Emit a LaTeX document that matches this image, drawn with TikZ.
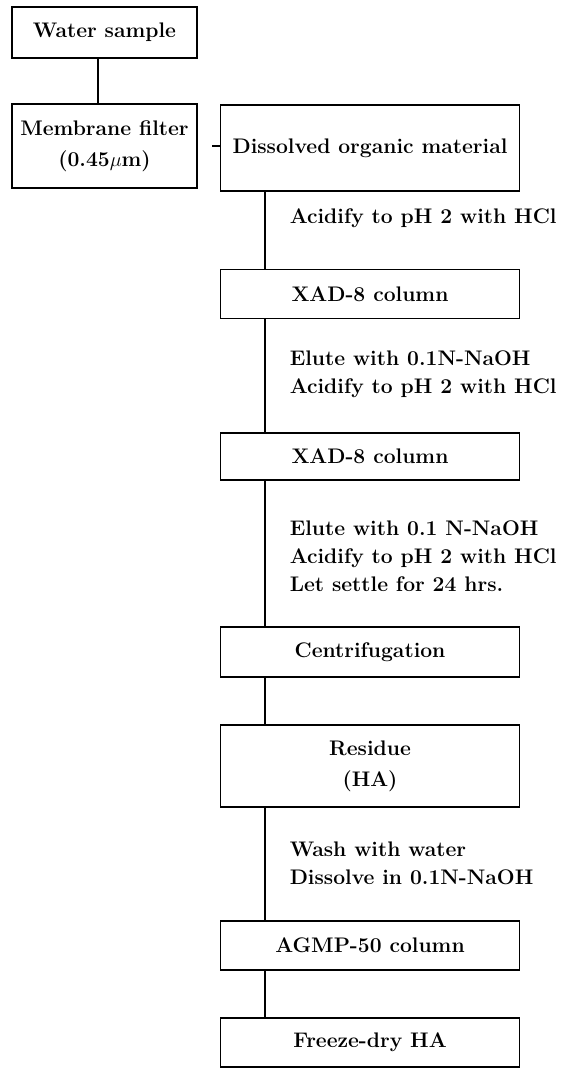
\documentclass[tikz,border=0pt]{standalone}
\usepackage{tikz}
\usetikzlibrary{positioning, calc}

\begin{document}
\begin{tikzpicture}[
    x=0.025cm, y=-0.025cm,
    line width=1.1pt,
    stepbox/.style={draw, line width=1.1pt, minimum width=7.475cm, minimum height=1.225cm, inner sep=0pt, align=center, font=\fontsize{15}{22}\selectfont\bfseries},
    smallbox/.style={stepbox, minimum width=4.625cm},
    note/.style={anchor=west, align=left, inner sep=0pt, font=\fontsize{15}{20}\selectfont\bfseries},
]
    \useasboundingbox (0,0) rectangle (570,1068);

    % Left column
    \node[smallbox, minimum height=1.275cm] (water) at (104.5, 32.5) {Water sample};
    \node[smallbox, minimum height=2.1cm] (membrane) at (104.5, 146) {Membrane filter\\(0.45$\mu$m)};

    % Main column
    \node[stepbox, minimum height=2.15cm] (dom) at (370, 148) {Dissolved organic material};
    \node[stepbox] (xadA) at (370, 294) {XAD-8 column};
    \node[stepbox, minimum height=1.175cm] (xadB) at (370, 456.5) {XAD-8 column};
    \node[stepbox, minimum height=1.25cm] (centrif) at (370, 652) {Centrifugation};
    \node[stepbox, minimum height=2.05cm] (residue) at (370, 766) {Residue\\(HA)};
    \node[stepbox] (agmp) at (370, 945.5) {AGMP-50 column};
    \node[stepbox] (freeze) at (370, 1042.5) {Freeze-dry HA};

    % Treatments
    \node[note] (acidA) at (289, 218) {Acidify to pH 2 with HCl};
    \node[note] (eluteA) at (289, 374) {Elute with 0.1N-NaOH\\Acidify to pH 2 with HCl};
    \node[note] (eluteB) at (289, 556) {Elute with 0.1 N-NaOH\\Acidify to pH 2 with HCl\\Let settle for 24 hrs.};
    \node[note] (wash) at (289, 863) {Wash with water\\Dissolve in 0.1N-NaOH};

    % Connectors
    \coordinate (wsx) at (98, 0);
    \coordinate (spine) at (265, 0);
    \coordinate (tick) at (212, 146);
    \draw (water.south -| wsx) -- (membrane.north -| wsx);
    \draw (tick) -- (tick -| dom.west);
    \draw (dom.south -| spine) -- (xadA.north -| spine);
    \draw (xadA.south -| spine) -- (xadB.north -| spine);
    \draw (xadB.south -| spine) -- (centrif.north -| spine);
    \draw (centrif.south -| spine) -- (residue.north -| spine);
    \draw (residue.south -| spine) -- (agmp.north -| spine);
    \draw (agmp.south -| spine) -- (freeze.north -| spine);

\end{tikzpicture}
\end{document}
